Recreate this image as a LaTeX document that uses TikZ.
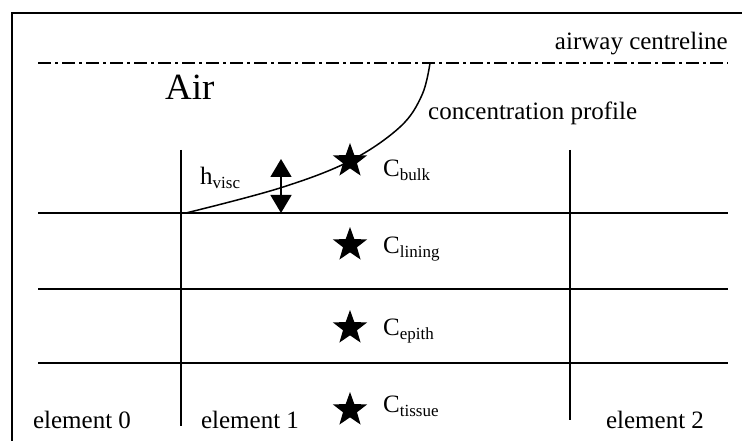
\documentclass[tikz,border=0pt]{standalone}
\usepackage{fontspec}
\setmainfont{Liberation Serif}
\usetikzlibrary{arrows.meta,shapes.geometric}
\newcommand{\lowtxt}[1]{\raisebox{-4pt}{\fontsize{17}{17}\selectfont #1}}
\tikzset{
  frm/.style={black, line width=1.8pt},
  lyr/.style={black, line width=1.6pt},
  cline/.style={black, line width=1.3pt, dash pattern=on 13pt off 4pt on 3pt off 4pt},
  crv/.style={black, line width=1.5pt},
  harr/.style={{Triangle[width=21pt,length=18pt]}-{Triangle[width=21pt,length=18pt]}, line width=1.5pt},
  cstar/.style={star, star points=5, star point ratio=2.45, fill=black,
                minimum size=36pt, inner sep=0pt},
  lbl/.style={font=\fontsize{25}{28}\selectfont, inner sep=0pt},
  big/.style={font=\fontsize{37}{40}\selectfont, inner sep=0pt},
}
\begin{document}
\begin{tikzpicture}[x=1pt, y=-1pt]
    \useasboundingbox (0,0) rectangle (742,441);
    % outer frame
    \draw[frm] (12,441) -- (12,13) -- (742,13);
    % centreline and layers
    \draw[cline] (38,63) -- (728,63);
    \foreach \yy in {213,289,363}
      \draw[lyr] (38,\yy) -- (728,\yy);
    \draw[lyr] (181,150) -- (181,426);
    \draw[lyr] (570,150) -- (570,420);
    % profile
    \draw[crv] plot[smooth, tension=0.6] coordinates
      {(186,213) (280,188) (350,161) (400,127) (422,95) (430,63)};
    \coordinate (htop) at (281,159);
    \coordinate (hbot) at (281,213);
    \draw[harr] (htop) -- (hbot);
    % concentrations
    \node[cstar] (sbulk) at (350,161) {};
    \node[cstar] (slin) at (350,245) {};
    \node[cstar] (sepi) at (350,328) {};
    \node[cstar] (stis) at (350,410) {};
    \node[lbl, anchor=base west] (cbulk) at (383,177) {C\lowtxt{bulk}};
    \node[lbl, anchor=base west] (clin) at (383,253) {C\lowtxt{lining}};
    \node[lbl, anchor=base west] (cepi) at (383,335) {C\lowtxt{epith}};
    \node[lbl, anchor=base west] (ctis) at (383,412) {C\lowtxt{tissue}};
    % labels
    \node[big, anchor=base west] (air) at (165,100) {Air};
    \node[lbl, anchor=base east] (acl) at (728,50) {airway centreline};
    \node[lbl, anchor=base west] (prof) at (428,120) {concentration profile};
    \node[lbl, anchor=base west] (hv) at (200,185) {h\lowtxt{visc}};
    \node[lbl, anchor=base] (el0) at (82,428) {element 0};
    \node[lbl, anchor=base] (el1) at (250,428) {element 1};
    \node[lbl, anchor=base] (el2) at (655,428) {element 2};
\end{tikzpicture}
\end{document}
